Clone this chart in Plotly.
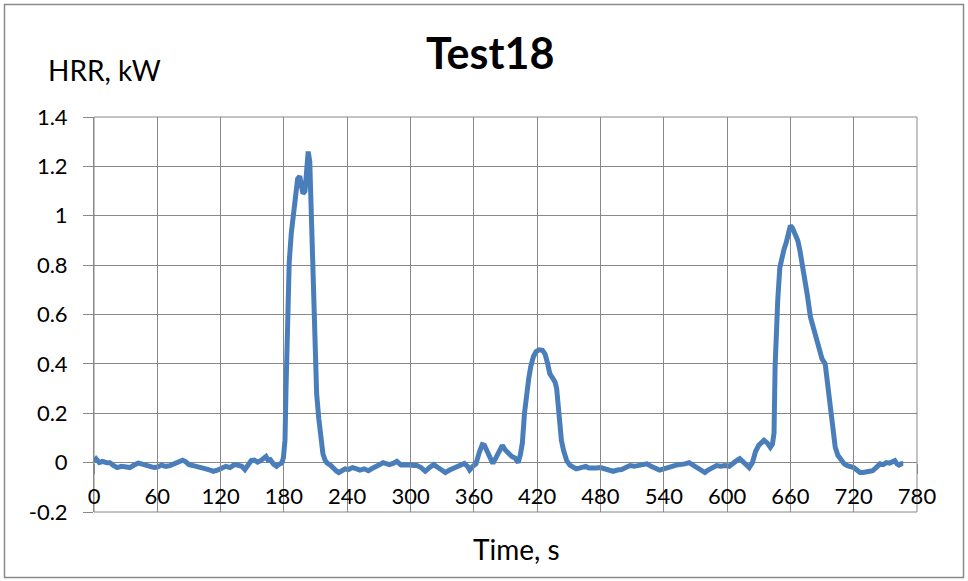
import plotly.graph_objects as go

# Time, s
time_s = [0, 2, 5, 8, 12, 15, 18, 22, 26, 30, 34, 38, 42, 45, 49, 53, 57, 60, 64, 68, 72, 76, 80, 84, 87, 90, 94, 98,
          102, 106, 110, 113, 117, 121, 125, 129, 133, 136, 140, 143, 146, 149, 152, 155, 158, 161, 163, 165, 167,
          170, 173, 176, 178, 179.5, 181, 182, 183, 184, 185, 187, 189, 191, 193, 195, 196, 197, 198, 200, 201, 203,
          204.5, 205.5, 206.5, 208, 209.5, 211, 213, 215, 217, 219, 221, 224, 227, 230, 232, 235, 238, 241, 245,
          249, 252, 256, 260, 263, 266, 270, 274, 277, 280, 284, 287, 291, 295, 299, 303, 306, 310, 314, 318, 322,
          326, 329, 333, 337, 341, 345, 348, 351, 354, 356, 359, 362, 365, 368, 370, 372, 375, 378, 381, 384, 387,
          390, 393, 396, 399, 402, 404, 406, 408, 410, 412, 414, 416.5, 419, 422, 425, 427.5, 430, 432, 435, 437,
          438.5, 440, 441.5, 443, 445, 448, 451, 454, 457, 460, 463, 466, 469, 472, 476, 480, 484, 488, 492, 496,
          500, 504, 508, 512, 516, 520, 524, 528, 532, 536, 540, 544, 548, 552, 556, 560, 564, 568, 572, 576, 579,
          582, 586, 590, 594, 598, 602, 606, 609, 612, 615, 618, 621, 624, 627, 630, 633, 635, 638, 641, 643,
          644.5, 645.5, 646.5, 648, 650, 652, 654, 656, 658, 660, 662, 664.5, 667, 669, 671.5, 674, 676, 679, 681,
          683.5, 686, 688, 690, 693, 695, 697.7, 700, 702.5, 705, 708, 711, 714, 717, 720, 723, 726, 729, 732, 735,
          738, 741, 745, 748, 751, 754, 757, 759, 761, 763, 765, 767]

# HRR, kW
hrr_kw = [0.005, 0.015, 0.0, 0.005, 0.0, 0.0, -0.01, -0.02, -0.015, -0.02, -0.02, -0.01, -0.002, -0.005, -0.012,
          -0.015, -0.02, -0.018, -0.01, -0.015, -0.012, -0.005, 0.005, 0.01, 0.003, -0.008, -0.012, -0.015, -0.02,
          -0.025, -0.03, -0.035, -0.03, -0.022, -0.015, -0.02, -0.008, -0.01, -0.015, -0.028, -0.01, 0.008, 0.01,
          0.002, 0.008, 0.022, 0.025, 0.01, 0.012, -0.005, -0.015, -0.005, -0.002, 0.02, 0.09, 0.3, 0.55, 0.7, 0.81,
          0.93, 1.02, 1.1, 1.15, 1.16, 1.14, 1.1, 1.09, 1.1, 1.17, 1.26, 1.22, 1.05, 0.9, 0.67, 0.4, 0.28, 0.18,
          0.09, 0.035, 0.01, -0.002, -0.01, -0.025, -0.035, -0.04, -0.03, -0.025, -0.028, -0.02, -0.025, -0.03,
          -0.025, -0.033, -0.025, -0.016, -0.01, 0.0, -0.005, -0.008, -0.002, 0.005, -0.01, -0.008, -0.01, -0.012,
          -0.012, -0.02, -0.035, -0.02, -0.008, -0.02, -0.03, -0.04, -0.03, -0.022, -0.015, -0.01, -0.003, -0.015,
          -0.03, -0.015, -0.005, 0.04, 0.073, 0.07, 0.05, 0.02, -0.003, 0.02, 0.05, 0.07, 0.05, 0.035, 0.025,
          0.019, 0.0, 0.03, 0.08, 0.2, 0.29, 0.34, 0.39, 0.43, 0.45, 0.457, 0.455, 0.44, 0.4, 0.36, 0.34, 0.326,
          0.3, 0.224, 0.15, 0.09, 0.05, 0.008, -0.01, -0.015, -0.025, -0.022, -0.018, -0.015, -0.022, -0.02,
          -0.022, -0.02, -0.025, -0.03, -0.035, -0.03, -0.028, -0.02, -0.012, -0.015, -0.01, -0.008, -0.005,
          -0.015, -0.02, -0.03, -0.025, -0.018, -0.015, -0.01, -0.01, -0.005, 0.0, -0.01, -0.02, -0.03, -0.04,
          -0.03, -0.02, -0.012, -0.015, -0.012, -0.015, -0.005, 0.008, 0.016, 0.005, -0.01, -0.02, 0.0, 0.045,
          0.07, 0.085, 0.09, 0.08, 0.062, 0.075, 0.12, 0.387, 0.55, 0.657, 0.79, 0.84, 0.865, 0.89, 0.93, 0.96,
          0.95, 0.93, 0.9, 0.86, 0.8, 0.74, 0.68, 0.59, 0.56, 0.52, 0.48, 0.44, 0.42, 0.4, 0.33, 0.25, 0.15,
          0.062, 0.03, 0.008, -0.005, -0.012, -0.015, -0.02, -0.03, -0.04, -0.04, -0.04, -0.035, -0.033, -0.02,
          -0.005, -0.008, 0.0, -0.002, 0.003, 0.008, -0.005, -0.01, -0.005, -0.005]

x_ticks = list(range(0, 781, 60))
x_tick_labels = [str(v) for v in x_ticks]
y_ticks = [-0.2, 0, 0.2, 0.4, 0.6, 0.8, 1.0, 1.2, 1.4]
y_tick_labels = ["-0.2", "0", "0.2", "0.4", "0.6", "0.8", "1", "1.2", "1.4"]

chart_title = "Test18"
y_title = "HRR, kW"
x_title = "Time, s"

GRID = "#888888"
FONT = "Lato, 'Open Sans', sans-serif"

W, H = 968, 581
L, R, T, B = 94, 51, 117, 69
pw, ph = W - L - R, H - T - B


def px_x(p):
    return (p - L) / pw


def px_y(p):
    return (H - B - p) / ph


fig = go.Figure()
fig.add_trace(go.Scatter(x=time_s, y=hrr_kw, mode="lines",
                         line=dict(color="#4A7EBB", width=5), showlegend=False))

fig.update_layout(
    width=W, height=H,
    margin=dict(l=L, r=R, t=T, b=B, autoexpand=False),
    paper_bgcolor="white", plot_bgcolor="white",
    font=dict(family=FONT, color="#000000"),
    xaxis=dict(range=[0, 780], tickvals=x_ticks, ticktext=x_tick_labels,
               showgrid=True, gridcolor=GRID, gridwidth=1, zeroline=False,
               showline=False, anchor="free", position=0.125,
               ticks="outside", ticklen=10, tickcolor=GRID,
               ticklabelstandoff=4,
               tickfont=dict(size=22, family=FONT, color="#000000")),
    yaxis=dict(range=[-0.2, 1.4], tickvals=y_ticks, ticktext=y_tick_labels,
               showgrid=True, gridcolor=GRID, gridwidth=1, zeroline=False,
               showline=True, linecolor=GRID, linewidth=1,
               ticks="outside", ticklen=10, tickcolor=GRID,
               ticklabelstandoff=11,
               tickfont=dict(size=22, family=FONT, color="#000000")),
    shapes=[
        dict(type="rect", xref="paper", yref="paper", x0=0, x1=1, y0=0, y1=1,
             line=dict(color=GRID, width=1), layer="below"),
        dict(type="rect", xref="paper", yref="paper",
             x0=px_x(4.5), x1=px_x(963.5), y0=px_y(577.5), y1=px_y(4.5),
             line=dict(color="#8a8a8a", width=1.5), layer="below"),
    ],
    annotations=[
        dict(text="<b>" + chart_title + "</b>", xref="paper", yref="paper",
             x=px_x(490), y=px_y(52), xanchor="center", yanchor="middle",
             showarrow=False, font=dict(size=43, family=FONT, color="#000000")),
        dict(text=y_title, xref="paper", yref="paper",
             x=px_x(46), y=px_y(70), xanchor="left", yanchor="middle",
             showarrow=False, font=dict(size=28, family=FONT, color="#000000")),
        dict(text=x_title, xref="paper", yref="paper",
             x=px_x(516), y=px_y(549), xanchor="center", yanchor="middle",
             showarrow=False, font=dict(size=28, family=FONT, color="#000000")),
    ],
)

fig.write_html("out.html", config={"displayModeBar": False},
               post_script="document.body.style.margin='0';document.body.style.overflow='hidden';")
